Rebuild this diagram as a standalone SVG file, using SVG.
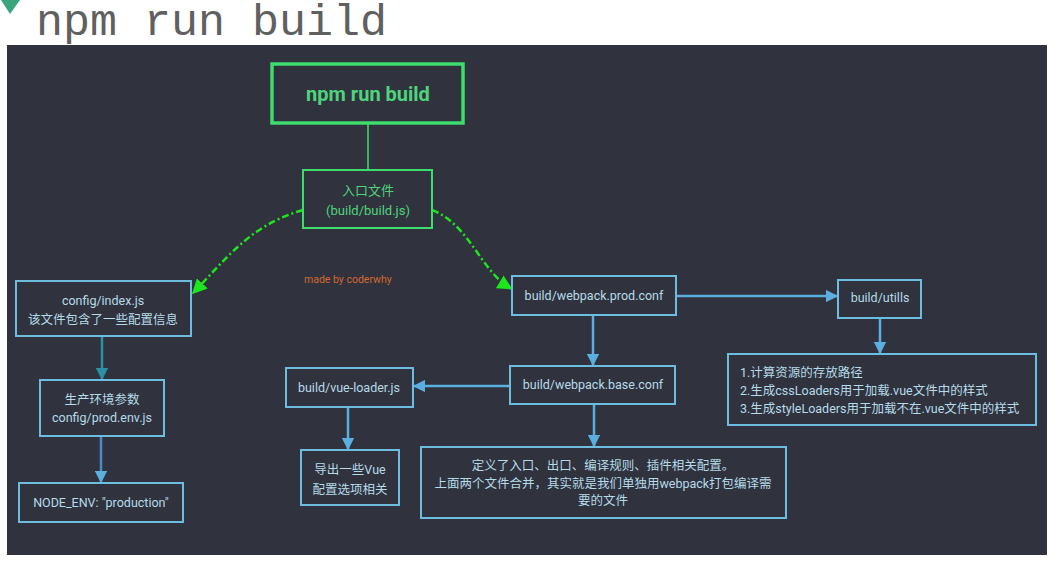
<svg xmlns="http://www.w3.org/2000/svg" width="1059" height="574" viewBox="0 0 1059 574">
<defs>
<style>
.t{font-family:Roboto,"Noto Sans CJK SC",sans-serif;text-anchor:middle}
.b{fill:none;stroke:#6cbddf;stroke-width:2}
.bt{fill:#b6dbe8;font-size:12.5px}
.g{fill:none;stroke:#3edc6c}
.gt{fill:#4fd47c}
.c{fill:none;stroke:#5aaee0;stroke-width:2.5}
</style>
<marker id="ab" viewBox="0 0 10 10" refX="9" refY="5" markerWidth="5" markerHeight="5" orient="auto" markerUnits="strokeWidth"><path d="M0,0L10,5L0,10z" fill="#5aaee0"/></marker>
<marker id="at" viewBox="0 0 10 10" refX="9" refY="5" markerWidth="5" markerHeight="5" orient="auto" markerUnits="strokeWidth"><path d="M0,0L10,5L0,10z" fill="#2b8fa6"/></marker>
<marker id="ag" viewBox="0 0 10 10" refX="8" refY="5" markerWidth="6" markerHeight="6" orient="auto" markerUnits="strokeWidth"><path d="M0,0L10,5L0,10z" fill="#1ee61e"/></marker>
</defs>
<rect width="1059" height="574" fill="#ffffff"/>
<path d="M1,0L20,0L10,14z" fill="#3aa57c"/>
<text x="36" y="35" font-family="Liberation Mono,monospace" font-size="45" fill="#606060">npm run build</text>
<rect x="7" y="45" width="1040" height="510" fill="#30323e"/>
<text x="304" y="283" font-family="Roboto,sans-serif" font-size="10.5" fill="#d2692e">made by coderwhy</text>
<g id="connectors">
<line x1="368" y1="123" x2="368" y2="170" stroke="#3edc6c" stroke-width="1.5"/>
<path d="M303,210C250,225 225,260 194,292" fill="none" stroke="#1ee61e" stroke-width="2.5" stroke-dasharray="7,3,2,3" marker-end="url(#ag)"/>
<path d="M432,210C470,225 480,270 510,288" fill="none" stroke="#1ee61e" stroke-width="2.5" stroke-dasharray="7,3,2,3" marker-end="url(#ag)"/>
<line x1="102" y1="336" x2="102" y2="379" stroke="#2b8fa6" stroke-width="2.5" marker-end="url(#at)"/>
<line x1="101" y1="436" x2="101" y2="482" stroke="#4a8cc8" stroke-width="2.5" marker-end="url(#ab)"/>
<line class="c" x1="593" y1="315" x2="593" y2="365" marker-end="url(#ab)"/>
<line class="c" x1="676" y1="296" x2="837" y2="296" marker-end="url(#ab)"/>
<line class="c" x1="880" y1="318" x2="880" y2="353" marker-end="url(#ab)"/>
<line class="c" x1="510" y1="386" x2="414" y2="386" marker-end="url(#ab)"/>
<line class="c" x1="348" y1="407" x2="348" y2="449" marker-end="url(#ab)"/>
<line class="c" x1="594" y1="404" x2="594" y2="446" marker-end="url(#ab)"/>
</g>
<g id="npm-run-build">
<rect class="g" x="272" y="64" width="191" height="59" stroke-width="3.5"/>
<text class="t gt" x="368" y="101" font-size="20" font-weight="bold">npm run build</text>
</g>
<g id="entry">
<rect class="g" x="303" y="170" width="129" height="58" stroke-width="2"/>
<text class="t gt" x="368" y="195" font-size="13">入口文件</text>
<text class="t gt" x="368" y="215" font-size="13">(build/build.js)</text>
</g>
<g id="config-index">
<rect class="b" x="16" y="281" width="175" height="55"/>
<text class="t bt" x="103" y="305">config/index.js</text>
<text class="t bt" x="103" y="324">该文件包含了一些配置信息</text>
</g>
<g id="prod-env">
<rect class="b" x="40" y="380" width="124" height="56"/>
<text class="t bt" x="102" y="404">生产环境参数</text>
<text class="t bt" x="102" y="422">config/prod.env.js</text>
</g>
<g id="node-env">
<rect class="b" x="19" y="483" width="164" height="39"/>
<text class="t bt" x="101" y="507">NODE_ENV: "production"</text>
</g>
<g id="prod-conf">
<rect class="b" x="512" y="276" width="164" height="39"/>
<text class="t bt" x="594" y="300">build/webpack.prod.conf</text>
</g>
<g id="utills">
<rect class="b" x="838" y="280" width="83" height="38"/>
<text class="t bt" x="880" y="302">build/utills</text>
</g>
<g id="utills-desc">
<rect class="b" x="728" y="354" width="308" height="71"/>
<text class="bt" x="740" y="377" font-family="Roboto,'Noto Sans CJK SC',sans-serif">1.计算资源的存放路径</text>
<text class="bt" x="740" y="395" font-family="Roboto,'Noto Sans CJK SC',sans-serif">2.生成cssLoaders用于加载.vue文件中的样式</text>
<text class="bt" x="740" y="413" font-family="Roboto,'Noto Sans CJK SC',sans-serif">3.生成styleLoaders用于加载不在.vue文件中的样式</text>
</g>
<g id="base-conf">
<rect class="b" x="510" y="366" width="165" height="38"/>
<text class="t bt" x="593" y="389">build/webpack.base.conf</text>
</g>
<g id="vue-loader">
<rect class="b" x="286" y="368" width="127" height="39"/>
<text class="t bt" x="349" y="392">build/vue-loader.js</text>
</g>
<g id="vue-export">
<rect class="b" x="301" y="450" width="98" height="55"/>
<text class="t bt" x="350" y="474">导出一些Vue</text>
<text class="t bt" x="350" y="494">配置选项相关</text>
</g>
<g id="base-desc">
<rect class="b" x="421" y="447" width="365" height="71"/>
<text class="t bt" x="603" y="470">定义了入口、出口、编译规则、插件相关配置。</text>
<text class="t bt" x="603" y="488">上面两个文件合并，其实就是我们单独用webpack打包编译需</text>
<text class="t bt" x="603" y="505">要的文件</text>
</g>
</svg>
